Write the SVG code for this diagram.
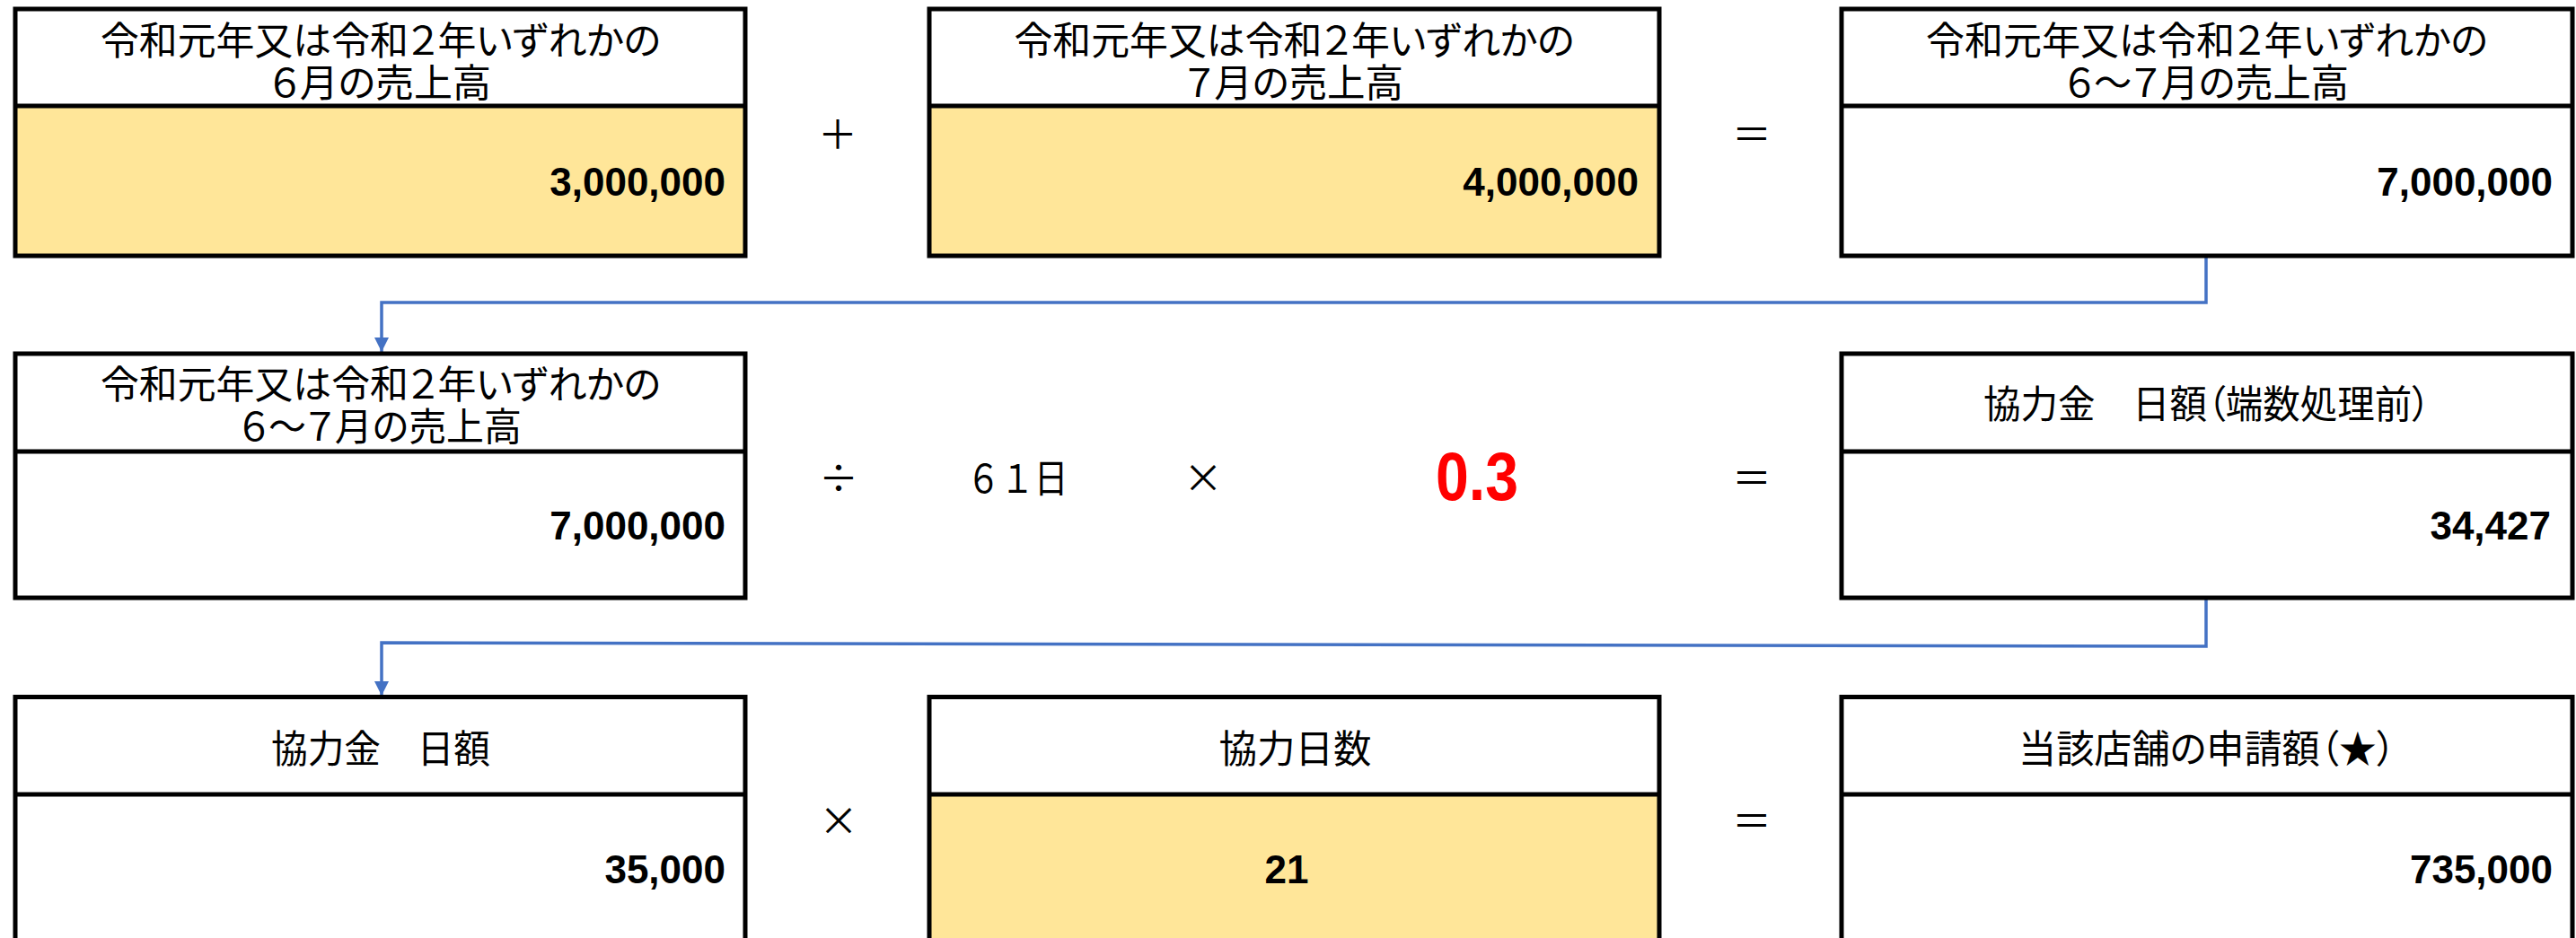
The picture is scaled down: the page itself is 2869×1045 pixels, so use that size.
<svg xmlns="http://www.w3.org/2000/svg" width="2869" height="1045" viewBox="0 0 2869 1045">
<defs>
<style>
.box{fill:none;stroke:#000;stroke-width:5}
.div{stroke:#000;stroke-width:5}
.hdr{fill:#fff}
.y{fill:#FFE699}
.w{fill:#fff}
.h{font-family:"Noto Sans CJK JP","Noto Sans",sans-serif;font-size:43px;fill:#000;text-anchor:middle;dominant-baseline:central;font-feature-settings:"palt"}
.num{font-family:"Liberation Sans",Arial,sans-serif;font-weight:bold;font-size:44px;fill:#000;text-anchor:end}
.op{font-family:"Noto Sans CJK JP","Noto Sans",sans-serif;font-size:44px;fill:#000;text-anchor:middle;dominant-baseline:central}
.red{font-family:"Liberation Sans",Arial,sans-serif;font-weight:bold;font-size:76px;fill:#FF0000;text-anchor:middle}
.conn{fill:none;stroke:#4472C4;stroke-width:3.5}
</style>
<marker id="arr" markerUnits="userSpaceOnUse" markerWidth="16" markerHeight="16" refX="16" refY="8" orient="auto">
<path d="M0,0 L16,8 L0,16 z" fill="#4472C4"/>
</marker>
</defs>
<rect width="2869" height="1045" fill="#fff"/>

<g id="connectors">
<path class="conn" d="M2457 286 V337 H425 V392" marker-end="url(#arr)"/>
<path class="conn" d="M2457 667 V720 L425 716 V775" marker-end="url(#arr)"/>
</g>

<g id="node-june">
<rect class="hdr" x="17" y="10" width="813" height="108"/>
<rect class="y" x="17" y="118" width="813" height="167"/>
<rect class="box" x="17" y="10" width="813" height="275"/>
<line class="div" x1="17" y1="118" x2="830" y2="118"/>
<text class="h"><tspan x="424" y="41.5" textLength="624" lengthAdjust="spacingAndGlyphs">令和元年又は令和２年いずれかの</tspan><tspan x="424" y="88.5" textLength="246" lengthAdjust="spacingAndGlyphs">６月の売上高</tspan></text>
<text class="num" x="808" y="218">3,000,000</text>
</g>

<g id="node-july">
<rect class="hdr" x="1035" y="10" width="813" height="108"/>
<rect class="y" x="1035" y="118" width="813" height="167"/>
<rect class="box" x="1035" y="10" width="813" height="275"/>
<line class="div" x1="1035" y1="118" x2="1848" y2="118"/>
<text class="h"><tspan x="1441.5" y="41.5" textLength="624" lengthAdjust="spacingAndGlyphs">令和元年又は令和２年いずれかの</tspan><tspan x="1441.5" y="88.5" textLength="243" lengthAdjust="spacingAndGlyphs">７月の売上高</tspan></text>
<text class="num" x="1825" y="218">4,000,000</text>
</g>

<g id="node-total">
<rect class="hdr" x="2051" y="10" width="814" height="108"/>
<rect class="w" x="2051" y="118" width="814" height="167"/>
<rect class="box" x="2051" y="10" width="814" height="275"/>
<line class="div" x1="2051" y1="118" x2="2865" y2="118"/>
<text class="h"><tspan x="2458" y="41.5" textLength="626" lengthAdjust="spacingAndGlyphs">令和元年又は令和２年いずれかの</tspan><tspan x="2458" y="88.5" textLength="316" lengthAdjust="spacingAndGlyphs">６～７月の売上高</tspan></text>
<text class="num" x="2843" y="218">7,000,000</text>
</g>

<g id="node-total2">
<rect class="hdr" x="17" y="394" width="813" height="109"/>
<rect class="w" x="17" y="503" width="813" height="163"/>
<rect class="box" x="17" y="394" width="813" height="272"/>
<line class="div" x1="17" y1="503" x2="830" y2="503"/>
<text class="h"><tspan x="424" y="425" textLength="624" lengthAdjust="spacingAndGlyphs">令和元年又は令和２年いずれかの</tspan><tspan x="424" y="472" textLength="314" lengthAdjust="spacingAndGlyphs">６～７月の売上高</tspan></text>
<text class="num" x="808" y="601">7,000,000</text>
</g>

<g id="node-daily-raw">
<rect class="hdr" x="2051" y="394" width="814" height="109"/>
<rect class="w" x="2051" y="503" width="814" height="163"/>
<rect class="box" x="2051" y="394" width="814" height="272"/>
<line class="div" x1="2051" y1="503" x2="2865" y2="503"/>
<text class="h" x="2458" y="447" textLength="498" lengthAdjust="spacingAndGlyphs">協力金　日額（端数処理前）</text>
<text class="num" x="2841" y="601">34,427</text>
</g>

<g id="node-daily">
<rect class="hdr" x="17" y="776.5" width="813" height="108.5"/>
<rect class="w" x="17" y="885" width="813" height="170"/>
<rect class="box" x="17" y="776.5" width="813" height="278"/>
<line class="div" x1="17" y1="885" x2="830" y2="885"/>
<text class="h" x="424" y="830.5" textLength="244" lengthAdjust="spacingAndGlyphs">協力金　日額</text>
<text class="num" x="808" y="984">35,000</text>
</g>

<g id="node-days">
<rect class="hdr" x="1035" y="776.5" width="813" height="108.5"/>
<rect class="y" x="1035" y="885" width="813" height="170"/>
<rect class="box" x="1035" y="776.5" width="813" height="278"/>
<line class="div" x1="1035" y1="885" x2="1848" y2="885"/>
<text class="h" x="1442.5" y="830.5" textLength="170" lengthAdjust="spacingAndGlyphs">協力日数</text>
<text class="num" x="1433" y="984" style="text-anchor:middle">21</text>
</g>

<g id="node-claim">
<rect class="hdr" x="2051" y="776.5" width="814" height="108.5"/>
<rect class="w" x="2051" y="885" width="814" height="170"/>
<rect class="box" x="2051" y="776.5" width="814" height="278"/>
<line class="div" x1="2051" y1="885" x2="2865" y2="885"/>
<text class="h" x="2458" y="830.5" textLength="420" lengthAdjust="spacingAndGlyphs">当該店舗の申請額（★）</text>
<text class="num" x="2843" y="984">735,000</text>
</g>

<g id="operators">
<text class="op" x="933" y="147">＋</text>
<text class="op" x="1951" y="147">＝</text>
<text class="op" x="934" y="530">÷</text>
<text class="op" x="1133" y="530" textLength="113" lengthAdjust="spacingAndGlyphs">６１日</text>
<text class="op" x="1340" y="530">×</text>
<text class="red" x="1645" y="557" textLength="92" lengthAdjust="spacingAndGlyphs">0.3</text>
<text class="op" x="1951" y="530">＝</text>
<text class="op" x="934" y="912">×</text>
<text class="op" x="1951" y="912">＝</text>
</g>
</svg>
